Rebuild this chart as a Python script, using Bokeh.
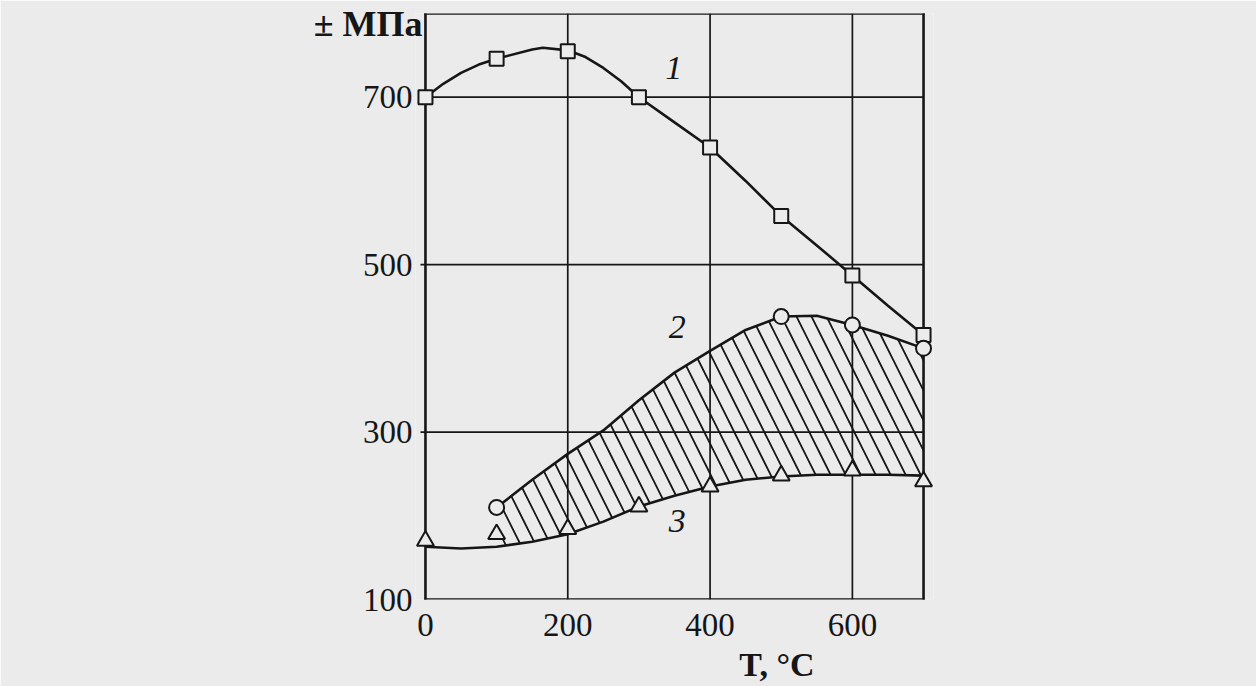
from bokeh.plotting import figure
from bokeh.models import Range1d, FixedTicker, Label, LinearAxis
from bokeh.embed import file_html
from bokeh.resources import INLINE

# ---- data ----
x_min, x_max = 0, 700
y_min, y_max = 100, 800
x_ticks = [0, 200, 400, 600]
y_ticks = [100, 300, 500, 700]
y_unit_text = "± МПа"
x_unit_text = "T, °C"

# curve 1 (squares)
c1_line_x = [0, 25, 50, 75, 100, 150, 165, 200, 225, 250, 275, 300, 350, 400, 450, 500, 550, 600, 650, 700]
c1_line_y = [700, 716, 729, 739, 746, 757, 759, 756, 748, 735, 719, 700, 670, 640, 600, 558, 523, 487, 451, 416]
c1_pts_x = [0, 100, 200, 300, 400, 500, 600, 700]
c1_pts_y = [700, 746, 755, 700, 640, 558, 487, 416]

# curve 2 (circles)
c2_line_x = [100, 150, 200, 250, 300, 350, 400, 450, 500, 550, 600, 650, 700]
c2_line_y = [210, 243, 274, 302, 338, 371, 397, 422, 438, 439, 428, 415, 400]
c2_pts_x = [100, 500, 600, 700]
c2_pts_y = [210, 438, 428, 400]

# curve 3 (triangles)
c3_line_x = [0, 50, 100, 150, 200, 250, 300, 350, 400, 450, 500, 550, 600, 650, 700]
c3_line_y = [163, 161, 163, 169, 178, 193, 211, 224, 235, 243, 247, 249, 249, 249, 248]
c3_pts_x = [0, 100, 200, 300, 400, 500, 600, 700]
c3_pts_y = [170, 178, 184, 211, 235, 248, 254, 241]

# hatched band between curve 3 (lower) and curve 2 (upper)
band_x = c2_line_x
band_lower = c3_line_y[2:]
band_upper = c2_line_y

BG = "#ebebeb"
INK = "#161616"
SERIF = "Liberation Serif"

# small side margin in x so edge markers are not cut by the frame
pad = 14
tick_len = 7  # short outward tick on the y side, in x units
p = figure(width=1256, height=686, x_range=Range1d(x_min - pad, x_max + pad),
           y_range=Range1d(y_min, y_max),
           output_backend="svg", toolbar_location=None,
           min_border_left=415, min_border_right=323, min_border_top=13, min_border_bottom=87)
p.background_fill_color = BG
p.border_fill_color = BG
p.outline_line_color = None
p.grid.visible = False

# axes
p.xaxis.ticker = FixedTicker(ticks=x_ticks)
p.yaxis.ticker = FixedTicker(ticks=y_ticks)
for ax in (p.xaxis[0], p.yaxis[0]):
    ax.axis_line_color = None
    ax.minor_tick_line_color = None
    ax.major_tick_line_color = None
    ax.major_tick_in = 0
    ax.major_tick_out = 0
    ax.major_label_text_font = SERIF
    ax.major_label_text_font_size = "33px"
    ax.major_label_text_color = INK
p.xaxis.major_label_standoff = 14
p.yaxis.major_label_standoff = 3

# unit captions as extra axes (one tick each, label overridden)
y_unit_pos = 787
x_unit_pos = 494
y_unit_axis = LinearAxis(ticker=FixedTicker(ticks=[y_unit_pos]),
                         major_label_overrides={y_unit_pos: y_unit_text},
                         axis_line_color=None, major_tick_line_color=None,
                         minor_tick_line_color=None, major_tick_in=0, major_tick_out=0,
                         major_label_standoff=-63,
                         major_label_text_font=SERIF, major_label_text_font_style="bold",
                         major_label_text_font_size="36px", major_label_text_color=INK)
p.add_layout(y_unit_axis, "left")
x_unit_axis = LinearAxis(ticker=FixedTicker(ticks=[x_unit_pos]),
                         major_label_overrides={x_unit_pos: x_unit_text},
                         axis_line_color=None, major_tick_line_color=None,
                         minor_tick_line_color=None, major_tick_in=0, major_tick_out=0,
                         major_label_standoff=7,
                         major_label_text_font=SERIF, major_label_text_font_style="bold",
                         major_label_text_font_size="34px", major_label_text_color=INK)
p.add_layout(x_unit_axis, "below")

# grid lines at the inner ticks (horizontal ones poke out a little as ticks)
gx = x_ticks[1:]
gy = y_ticks[1:]
p.segment(x0=gx, y0=[y_min] * len(gx), x1=gx, y1=[y_max] * len(gx),
          line_color=INK, line_width=1.7)
p.segment(x0=[x_min - tick_len] * len(gy), y0=gy, x1=[x_max] * len(gy), y1=gy,
          line_color=INK, line_width=1.7)
# box around the plotting area
p.segment(x0=[x_min, x_max, x_min, x_min], y0=[y_min, y_min, y_min, y_max],
          x1=[x_min, x_max, x_max, x_max], y1=[y_max, y_max, y_min, y_max],
          line_color=INK, line_width=2.6, line_cap="square")

# hatched band
p.varea(x=band_x, y1=band_lower, y2=band_upper, fill_color=None, fill_alpha=0,
        hatch_pattern="\\", hatch_color=INK, hatch_scale=30, hatch_weight=1.8)

# curves
p.line(c1_line_x, c1_line_y, line_color=INK, line_width=2.6)
p.line(c2_line_x, c2_line_y, line_color=INK, line_width=2.6)
p.line(c3_line_x, c3_line_y, line_color=INK, line_width=2.6)

# markers
p.scatter(c1_pts_x, c1_pts_y, marker="square", size=14, fill_color=BG, line_color=INK, line_width=2)
p.scatter(c2_pts_x, c2_pts_y, marker="circle", size=15, fill_color=BG, line_color=INK, line_width=2)
p.scatter(c3_pts_x, c3_pts_y, marker="triangle", size=17, fill_color=BG, line_color=INK, line_width=2)

# curve labels (inside the frame)
for txt, lx, ly in (("1", 349, 735), ("2", 354, 425), ("3", 354, 194)):
    p.add_layout(Label(x=lx, y=ly, text=txt, text_font=SERIF, text_font_style="italic",
                       text_font_size="34px", text_color=INK,
                       text_align="center", text_baseline="middle"))

open("out.html", "w").write(file_html(p, INLINE))
